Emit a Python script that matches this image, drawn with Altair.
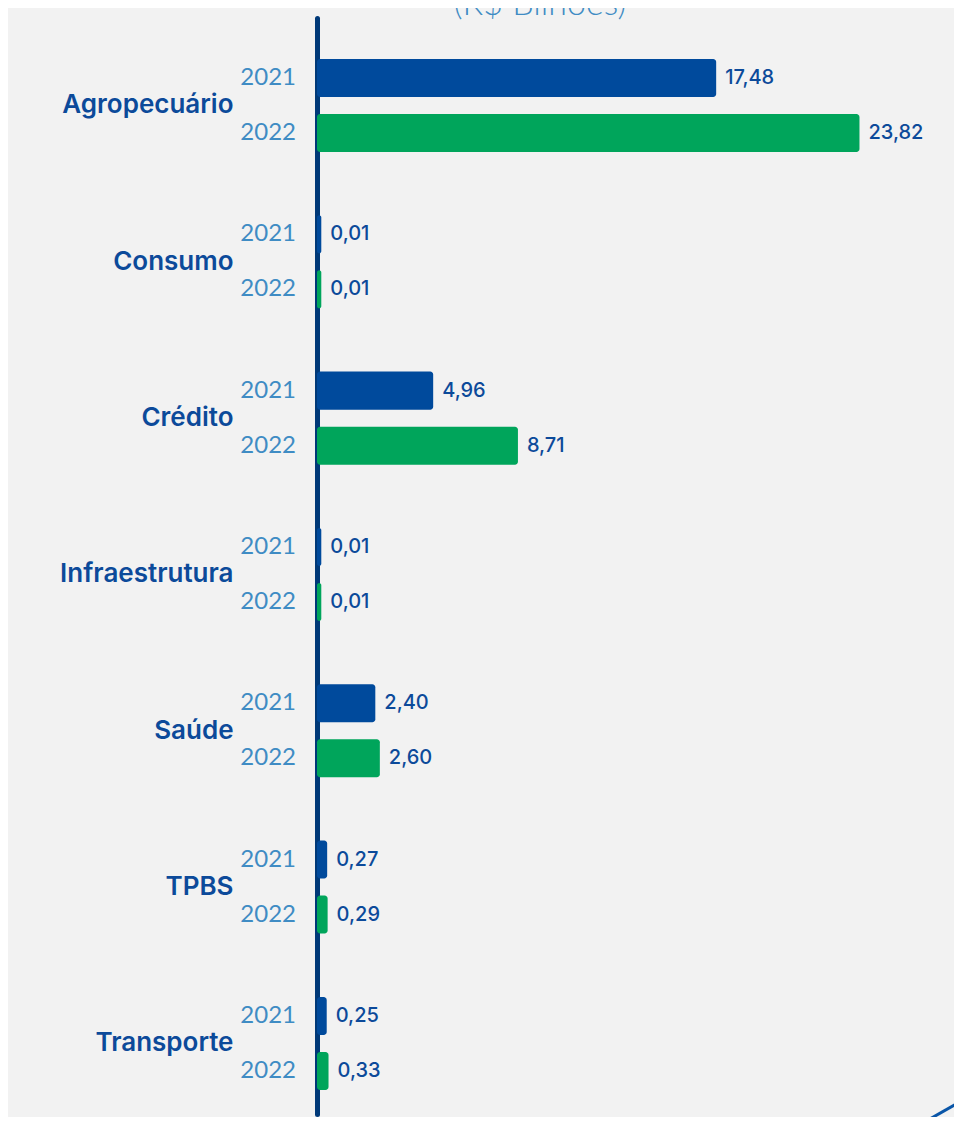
import altair as alt
import pandas as pd

categories = ["Agropecuário", "Consumo", "Crédito", "Infraestrutura", "Saúde", "TPBS", "Transporte"]
years = ["2021", "2022"]
values_2021 = [17.48, 0.01, 4.96, 0.01, 2.40, 0.27, 0.25]
values_2022 = [23.82, 0.01, 8.71, 0.01, 2.60, 0.29, 0.33]
title_text = "(R$ Bilhões)"

rows = []
for c, a, b in zip(categories, values_2021, values_2022):
    rows.append({"cat": c, "year": "2021", "v": a, "label": f"{a:.2f}".replace(".", ",")})
    rows.append({"cat": c, "year": "2022", "v": b, "label": f"{b:.2f}".replace(".", ",")})
df = pd.DataFrame(rows)

XMIN = -0.18
XMAX = 27.25
W = 620
H = 1096

blue = "#004a9c"
green = "#00a55b"
axis_col = "#003978"
text_blue = "#0c4a9a"
year_col = "#3f8cc4"
bg = "#f2f2f2"

yenc = alt.Y(
    "cat:N",
    sort=categories,
    scale=alt.Scale(paddingInner=0.405, paddingOuter=0.208, align=0.63),
    axis=alt.Axis(
        title=None, ticks=False, tickSize=0, labelPadding=84, labelAlign="right",
        labelFont="Inter", labelFontSize=26, labelFontWeight=600, labelColor=text_blue,
        domainColor=axis_col, domainWidth=5, domainCap="round", grid=False,
        labelBaseline="middle",
    ),
)
yoff = alt.YOffset("year:N", sort=years, scale=alt.Scale(paddingInner=0.309, paddingOuter=0))
xscale = alt.Scale(domain=[XMIN, XMAX], nice=False, zero=False)

base = alt.Chart(df)

bars = base.mark_bar(cornerRadius=3).encode(
    y=yenc,
    yOffset=yoff,
    x=alt.X("v:Q", scale=xscale, axis=None),
    x2=alt.datum(XMIN),
    color=alt.Color("year:N", scale=alt.Scale(domain=years, range=[blue, green]), legend=None),
)

vals = base.mark_text(align="left", baseline="middle", dx=9, font="Inter", fontSize=20,
                      fontWeight=500, color=text_blue).encode(
    y=alt.Y("cat:N", sort=categories),
    yOffset=yoff,
    x=alt.X("v:Q", scale=xscale),
    text="label:N",
)

yrs = base.mark_text(align="right", baseline="middle", font="Lato", fontSize=24,
                     fontWeight=400, color=year_col).encode(
    y=alt.Y("cat:N", sort=categories),
    yOffset=yoff,
    x=alt.value(-21),
    text="year:N",
)

title = alt.Chart(pd.DataFrame({"t": [title_text]})).mark_text(
    align="center", baseline="bottom", font="Lato", fontSize=34, fontWeight=300, color=year_col
).encode(x=alt.value(223), y=alt.value(4), text="t:N")

deco = alt.Chart(pd.DataFrame({"d": [0]})).mark_rule(color="#0a56a8", strokeWidth=3).encode(
    x=alt.value(588), x2=alt.value(650), y=alt.value(1115), y2=alt.value(1080)
)

chart = alt.layer(bars, vals, yrs, title, deco).properties(
    width=W, height=H,
    padding={"left": 309, "top": 10, "right": 17, "bottom": 3},
    autosize=alt.AutoSizeParams(type="none"),
    background=bg,
).configure_view(stroke=None)

chart.save("out.html", embed_options={"renderer": "svg", "actions": False})
